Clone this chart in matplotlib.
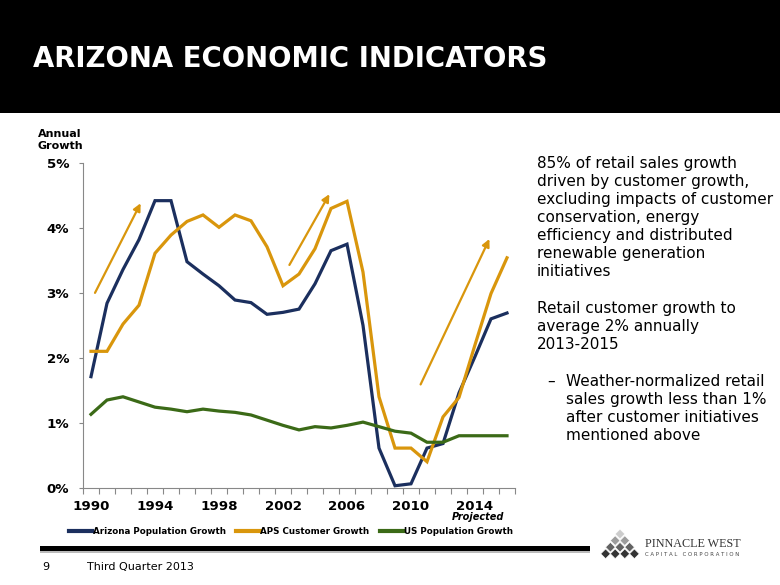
import numpy as np
import matplotlib
matplotlib.use('Agg')
import matplotlib.pyplot as plt
from matplotlib.patches import Rectangle, Polygon
from matplotlib.lines import Line2D
from matplotlib.ticker import FixedLocator, FuncFormatter

# ---- data ----
years = list(range(1990, 2017))
az_pop = [1.71, 2.84, 3.36, 3.82, 4.42, 4.42, 3.48, 3.29, 3.11, 2.89, 2.85, 2.67, 2.70, 2.75,
          3.14, 3.65, 3.75, 2.50, 0.61, 0.03, 0.06, 0.61, 0.68, 1.46, 2.02, 2.60, 2.69]
aps_cust = [2.10, 2.10, 2.52, 2.81, 3.61, 3.89, 4.10, 4.20, 4.01, 4.20, 4.11, 3.71, 3.11, 3.29,
            3.68, 4.30, 4.41, 3.32, 1.40, 0.61, 0.61, 0.40, 1.09, 1.39, 2.20, 2.99, 3.54]
us_pop = [1.13, 1.35, 1.40, 1.32, 1.24, 1.21, 1.17, 1.21, 1.18, 1.16, 1.12, 1.04, 0.96, 0.89,
          0.94, 0.92, 0.96, 1.01, 0.94, 0.87, 0.84, 0.70, 0.70, 0.80, 0.80, 0.80, 0.80]
year_ticks = [1990, 1994, 1998, 2002, 2006, 2010, 2014]
pct_ticks = [0, 1, 2, 3, 4, 5]
series_names = ['Arizona Population Growth', 'APS Customer Growth', 'US Population Growth']
# trend arrows: (x0, y0, x1, y1) in year / percent
trend_arrows = [(1990.25, 3.00, 1993.1, 4.38),
                (2002.4, 3.43, 2004.9, 4.52),
                (2010.6, 1.59, 2014.9, 3.83)]
bullets = ["85% of retail sales growth",
           "driven by customer growth,",
           "excluding impacts of customer",
           "conservation, energy",
           "efficiency and distributed",
           "renewable generation",
           "initiatives"]
bullets2 = ["Retail customer growth to",
            "average 2% annually",
            "2013-2015"]
bullets3 = ["Weather-normalized retail",
            "sales growth less than 1%",
            "after customer initiatives",
            "mentioned above"]

NAVY = '#1b2f5e'
GOLD = '#d9960c'
GREEN = '#3b6a17'

W, H = 780, 585
fig = plt.figure(figsize=(W / 100, H / 100), dpi=100)

# black header band
fig.add_artist(Rectangle((0, 1 - 113 / H), 1, 113 / H, transform=fig.transFigure,
                         facecolor='black', edgecolor='none'))
fig.text(33 / W, 1 - 67 / H, 'ARIZONA ECONOMIC INDICATORS', color='white',
         fontsize=19.8, fontweight='bold', va='baseline', ha='left')

# chart
ax = fig.add_axes([83 / W, 1 - 487.7 / H, 432 / W, 324.7 / H])
ax.plot(years, az_pop, color=NAVY, lw=2.3, solid_joinstyle='miter', label=series_names[0])
ax.plot(years, aps_cust, color=GOLD, lw=2.3, solid_joinstyle='miter', label=series_names[1])
ax.plot(years, us_pop, color=GREEN, lw=2.3, solid_joinstyle='miter', label=series_names[2])

for x0, y0, x1, y1 in trend_arrows:
    ax.annotate('', xy=(x1, y1), xytext=(x0, y0),
                arrowprops=dict(arrowstyle='-|>', color=GOLD, lw=1.6, mutation_scale=11,
                                shrinkA=0, shrinkB=0))

ax.set_xlim(years[0] - 0.5, years[-1] + 0.5)
ax.set_ylim(0, 5)
ax.set_xticks(year_ticks)
ax.set_xticklabels([str(y) for y in year_ticks], fontsize=9.6, fontweight='bold')
ax.xaxis.set_minor_locator(FixedLocator(np.arange(years[0] - 0.5, years[-1] + 1, 1)))
ax.tick_params(axis='x', which='major', length=0, pad=9)
ax.tick_params(axis='x', which='minor', length=4, color='#888888', width=0.8)
ax.set_yticks(pct_ticks)
ax.yaxis.set_major_formatter(FuncFormatter(lambda v, p: '%d%%' % v))
ax.tick_params(axis='y', length=3, color='#888888', width=0.8, pad=7, labelsize=9.6)
for lab in ax.get_yticklabels():
    lab.set_fontweight('bold')
for s in ['top', 'right']:
    ax.spines[s].set_visible(False)
for s in ['left', 'bottom']:
    ax.spines[s].set_color('#888888')
    ax.spines[s].set_linewidth(0.8)

ax.text(2014.2, -0.45, 'Projected', fontsize=7, fontweight='bold', style='italic',
        ha='center', va='center', clip_on=False)
fig.text(60 / W, 1 - 140 / H, 'Annual\nGrowth', fontsize=8, fontweight='bold',
         ha='center', va='center', linespacing=1.2)

handles = [Line2D([], [], color=c, lw=3) for c in (NAVY, GOLD, GREEN)]
fig.legend(handles, series_names, loc='center', bbox_to_anchor=(291 / W, 1 - 532 / H),
           ncol=3, frameon=False, prop={'size': 6.3, 'weight': 'bold'},
           handlelength=2.7, handletextpad=0.05, columnspacing=1.2)

# right-hand commentary
for i, line in enumerate(bullets):
    fig.text(537 / W, 1 - (167.7 + i * 18.1) / H, line, fontsize=11, va='baseline')
for i, line in enumerate(bullets2):
    fig.text(537 / W, 1 - (312.7 + i * 18.1) / H, line, fontsize=11, va='baseline')
fig.text(547 / W, 1 - 386 / H, '\u2013', fontsize=11, va='baseline')
for i, line in enumerate(bullets3):
    fig.text(566 / W, 1 - (386 + i * 18.1) / H, line, fontsize=11, va='baseline')

# footer
fig.add_artist(Rectangle((40 / W, 1 - 551 / H), 550 / W, 5 / H, transform=fig.transFigure,
                         facecolor='black', edgecolor='none'))
fig.add_artist(Rectangle((40 / W, 1 - 553 / H), 550 / W, 2 / H, transform=fig.transFigure,
                         facecolor='#bbbbbb', edgecolor='none'))
fig.text(42 / W, 1 - 570 / H, '9', fontsize=8, va='baseline')
fig.text(87 / W, 1 - 570 / H, 'Third Quarter 2013', fontsize=8, va='baseline')

# logo: pyramid of diamonds
lax = fig.add_axes([598 / W, 1 - 562 / H, 44 / W, 34 / H])
lax.set_xlim(0, 44)
lax.set_ylim(34, 0)
lax.axis('off')
greys = ['#cccccc', '#9c9c9c', '#626262', '#333333']
for r in range(4):
    for k in range(r + 1):
        cx = 22 + (k - r / 2) * 9.6
        cy = 6 + r * 6.6
        lax.add_patch(Polygon([(cx - 4.8, cy), (cx, cy - 4.8), (cx + 4.8, cy), (cx, cy + 4.8)],
                              closed=True, facecolor=greys[r], edgecolor='white', lw=0.4))
fig.text(645 / W, 1 - 547 / H, 'PINNACLE WEST', fontsize=8.7, family='Liberation Serif',
         color='#333333', va='baseline')
fig.text(645 / W, 1 - 556.5 / H, 'C A P I T A L   C O R P O R A T I O N', fontsize=3.9,
         color='#444444', va='baseline')

fig.savefig('out.png', dpi=100)
